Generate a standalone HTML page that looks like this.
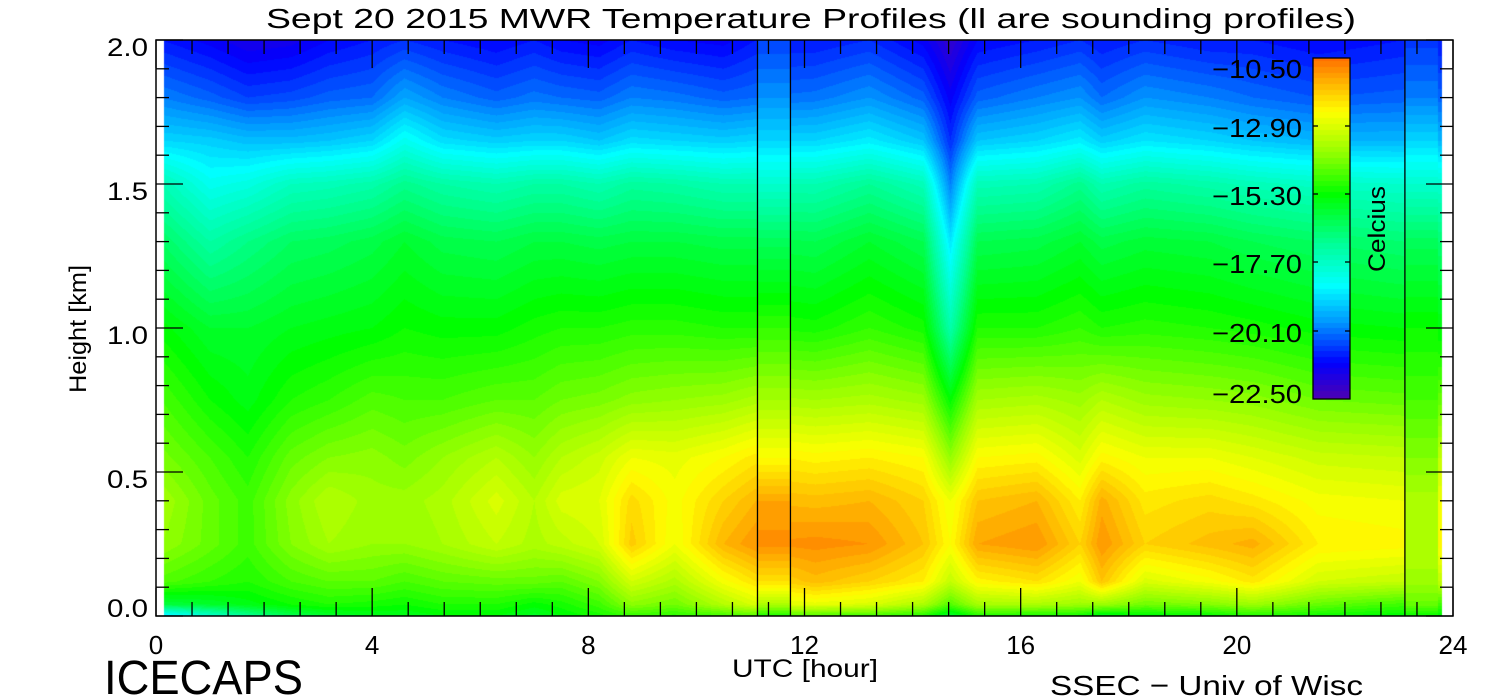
<!DOCTYPE html>
<html><head><meta charset="utf-8"><style>
html,body{margin:0;padding:0;background:#fff;width:1500px;height:700px;overflow:hidden}
#wrap{position:relative;width:1500px;height:700px}
canvas{position:absolute;left:0;top:0}
svg{position:absolute;left:0;top:0}
text{font-family:"Liberation Sans",sans-serif;fill:#000}
</style></head><body>
<div id="wrap">
<canvas id="cv" width="1500" height="700"></canvas>
<svg id="sv" width="1500" height="700"></svg>
</div>
<script>
// ---- data ----
const times = [0.1,1,1.7,2.5,3.2,4,4.6,5.3,6.3,7,7.5,8.2,8.8,9.6,10.5,11.1,12.2,13.2,14.2,14.7,15.2,16.3,17.1,17.5,18.3,19.5,20.3,21.5,23.1];
const heights = [0,0.04,0.12,0.25,0.4,0.55,0.75,1.0,1.3,1.5,1.65,1.8,2.0];
const tH000 = [-19.0,-17.8,-17.0,-16.2,-15.8,-15.6,-15.6,-15.4,-15.4,-15.7,-15.4,-15.1,-14.8,-14.9,-14.7,-14.5,-14.6,-14.7,-15.0,-15.9,-15.0,-15.1,-15.2,-15.7,-15.4,-15.3,-15.0,-15.2,-15.4];
const tH004 = [-16.0,-15.8,-15.5,-15.2,-15.0,-15.1,-15.2,-15.0,-15.0,-15.3,-15.1,-14.7,-13.9,-14.2,-13.4,-12.9,-12.7,-12.9,-13.5,-14.5,-13.6,-13.5,-13.7,-13.7,-14.2,-14.0,-13.7,-14.3,-14.7];
const tH012 = [-14.5,-14.8,-15,-14.6,-14.4,-14.4,-14.6,-14.4,-14.3,-14.3,-14.4,-14,-13,-13.5,-12.5,-12,-11.5,-11.8,-12.2,-13.2,-12.3,-12,-12.6,-11.6,-12.9,-12.5,-12.1,-13,-13.2];
const tH025 = [-13.8,-14.3,-14.7,-14,-13.6,-13.8,-13.8,-13.6,-13.2,-13.5,-13.3,-13,-11.7,-12.6,-11.4,-11,-10.9,-11,-11.6,-12.4,-11.2,-11,-11.8,-11,-11.8,-11.5,-11.3,-12.2,-12.3];
const tH040 = [-13.6,-14.3,-14.7,-13.9,-13.4,-13.7,-13.7,-13.5,-12.9,-13.4,-12.9,-12.8,-11.9,-12.5,-11.8,-11.4,-11.5,-11.4,-11.8,-12.6,-11.6,-11.4,-12.2,-11.3,-12.1,-11.9,-12.1,-12.5,-12.6];
const tH055 = [-14.1,-14.6,-15,-14.3,-14,-13.9,-14.1,-13.8,-13.4,-13.8,-13.4,-13.1,-12.6,-12.7,-12.4,-12.1,-12.3,-12.2,-12.4,-13.8,-12.4,-12.3,-12.9,-12.3,-12.6,-12.6,-12.8,-13.1,-13.2];
const tH075 = [-14.6,-15.2,-15.5,-15,-14.8,-14.5,-14.6,-14.6,-14.4,-14.4,-14.2,-14.1,-13.9,-13.8,-13.7,-13.5,-13.6,-13.5,-13.7,-15.3,-13.6,-13.5,-13.7,-13.4,-13.7,-13.8,-13.9,-14.2,-14.3];
const tH100 = [-15.3,-15.8,-15.8,-15.6,-15.5,-15.4,-15.2,-15.3,-15.3,-15.1,-15,-15,-14.9,-14.9,-15,-15,-15.1,-14.8,-15.1,-17.3,-15,-15,-14.8,-15,-14.9,-15,-15.1,-15.3,-15.4];
const tH130 = [-16.4,-17.2,-16.8,-16.4,-16.3,-16.1,-15.8,-16.1,-16.2,-16.0,-16.0,-16.1,-16.0,-16.0,-16.1,-16.1,-16.2,-15.8,-16.2,-18.8,-16.2,-16.1,-15.8,-16.1,-15.9,-16.0,-16.2,-16.4,-16.6];
const tH150 = [-17.4,-18.3,-18.1,-17.6,-17.5,-17.3,-16.9,-17.2,-17.4,-17.2,-17.2,-17.4,-17.1,-17.2,-17.4,-17.4,-17.4,-17.0,-17.5,-20,-17.5,-17.4,-16.9,-17.4,-17.1,-17.3,-17.5,-17.7,-17.8];
const tH165 = [-19,-19.1,-19.3,-19.3,-19.2,-19,-18.3,-18.9,-19.1,-19,-19,-19.2,-18.9,-19,-19.1,-19,-19,-18.7,-19.2,-20.8,-19.2,-19,-18.7,-19.1,-18.8,-19,-19.2,-19.4,-19.4];
const tH180 = [-20,-20.3,-20.6,-20.5,-20.3,-20.2,-19.6,-20,-20.3,-20.1,-20.2,-20.3,-20,-20.1,-20.3,-20.2,-20.1,-19.8,-20.3,-21.3,-20.3,-20,-19.8,-20.2,-19.8,-20,-20.2,-20.4,-20.3];
const tH200 = [-21,-21.3,-21.6,-21.5,-21.2,-21,-20.8,-21,-21.2,-21,-21.2,-21.3,-21,-21.2,-21.3,-21,-21,-20.8,-21.3,-22,-21.2,-21,-20.8,-21,-20.8,-21,-21,-21.2,-21];
const sounding1Span = [11.13,11.74];
const sounding1 = [-15,-13.5,-12,-10.9,-11.2,-12.4,-13.6,-14.8,-16.3,-17.8,-19,-19.8,-20.6];
const sounding2Span = [23.11,23.72];
const sounding2 = [-15.2,-14.3,-13.7,-13.4,-13.5,-14,-14.6,-15.2,-16.3,-17.8,-19,-20,-20.7];
const xTickLabels = ["0","4","8","12","16","20","24"];
const yTickLabels = ["0.0","0.5","1.0","1.5","2.0"];
const cbarLabels = ["\u221210.50","\u221212.90","\u221215.30","\u221217.70","\u221220.10","\u221222.50"];

const grid = [tH000,tH004,tH012,tH025,tH040,tH055,tH075,tH100,tH130,tH150,tH165,tH180,tH200];

// ---- axes ----
const X0=156, X1=1453, Y0=616, Y1=40;
const xs = t => X0 + t*(X1-X0)/24;
const ys = h => Y0 - h*(Y0-Y1)/2;
const tinv = x => (x-X0)*24/(X1-X0);
const hinv = y => (Y0-y)*2/(Y0-Y1);

const stops=[[-22.5,[80,0,176]],[-21.2,[0,0,255]],[-19.8,[0,150,255]],[-18.5,[0,255,255]],[-17,[0,255,150]],[-15.3,[0,255,0]],[-13.8,[150,255,0]],[-12.4,[255,255,0]],[-11.5,[255,190,0]],[-10.5,[255,110,0]]];
function cmap(v){
  v=Math.floor(v/0.2)*0.2+0.1;
  if(v<=stops[0][0])return stops[0][1];
  for(let i=1;i<stops.length;i++){
    if(v<=stops[i][0]){const a=stops[i-1],b=stops[i];const f=(v-a[0])/(b[0]-a[0]);
      return [0,1,2].map(k=>Math.round(a[1][k]+(b[1][k]-a[1][k])*f));}
  }
  return stops[stops.length-1][1];
}
function interp1(arr,vals,x){
  if(x<=arr[0])return [0,0,0];
  for(let i=1;i<arr.length;i++){ if(x<=arr[i]) return [i-1,i,(x-arr[i-1])/(arr[i]-arr[i-1])]; }
  const n=arr.length-1; return [n,n,0];
}
function profileVal(prof,h){const [a,b,f]=interp1(heights,null,h);return prof[a]+(prof[b]-prof[a])*f;}
function valAt(t,h){
  if(t>=sounding1Span[0]&&t<=sounding1Span[1])return profileVal(sounding1,h);
  if(t>=sounding2Span[0]&&t<=sounding2Span[1])return profileVal(sounding2,h);
  const [i0,i1,ft]=interp1(times,null,t);
  const [j0,j1,fh]=interp1(heights,null,h);
  const a=grid[j0][i0]+(grid[j0][i1]-grid[j0][i0])*ft;
  const b=grid[j1][i0]+(grid[j1][i1]-grid[j1][i0])*ft;
  return a+(b-a)*fh;
}
const cv=document.getElementById('cv');const ctx=cv.getContext('2d');
ctx.fillStyle='#fff';ctx.fillRect(0,0,1500,700);
const DX0=164, DX1=1442;
const img=ctx.createImageData(DX1-DX0,Y0-Y1);
for(let y=Y1;y<Y0;y++){const h=hinv(y+0.5);
  for(let x=DX0;x<DX1;x++){const c=cmap(valAt(tinv(x+0.5),h));const p=((y-Y1)*(DX1-DX0)+(x-DX0))*4;
    img.data[p]=c[0];img.data[p+1]=c[1];img.data[p+2]=c[2];img.data[p+3]=255;}}
ctx.putImageData(img,DX0,Y1);
// colorbar gradient
const CB={x:1313,y:58,w:37,h:341};
for(let y=CB.y;y<CB.y+CB.h;y++){const v=-10.5-(y-CB.y)/CB.h*12;const c=cmap(v);ctx.fillStyle=`rgb(${c[0]},${c[1]},${c[2]})`;ctx.fillRect(CB.x,y,CB.w,1);}

// ---- svg overlay ----
const NS='http://www.w3.org/2000/svg';const sv=document.getElementById('sv');
function mk(tag,attrs,parent){const e=document.createElementNS(NS,tag);for(const k in attrs)e.setAttribute(k,attrs[k]);(parent||sv).appendChild(e);return e;}
function line(x1,y1,x2,y2,name){const l=mk('line',{x1,y1,x2,y2,stroke:'#000','stroke-width':1.3});


return l;}
function txt(s,x,y,size,anchor,name,extra){const t=mk('text',Object.assign({x,y,'font-size':size,'text-anchor':anchor},extra||{}));t.textContent=s;


return t;}
// frame
const fr=mk('rect',{x:X0,y:Y1,width:X1-X0,height:Y0-Y1,fill:'none',stroke:'#000','stroke-width':1.5});


// sounding lines
[sounding1Span[0],sounding1Span[1],sounding2Span[0]].forEach(t=>line(xs(t),Y1,xs(t),Y0,'sounding-marker-line'));
// x ticks
for(let k=0;k<=36;k++){const t=k*2/3;const x=xs(t);const L=(k%6===0)?28:14;
  line(x,Y0,x,Y0-L,'x-tick');line(x,Y1,x,Y1+L,'x-tick-top');}
xTickLabels.forEach((s,i)=>txt(s,xs(i*4),654,26,'middle','x-tick-label'));
// y ticks
for(let k=0;k<=20;k++){const y=ys(k*0.1);const L=(k%5===0)?27:13;
  line(X0,y,X0+L,y,'y-tick');line(X1,y,X1-L,y,'y-tick-right');}
yTickLabels.forEach((s,i)=>txt(s,148,Math.min(ys(i*0.5)+7,608)+9,25,'end','y-tick-label',{textLength:41,lengthAdjust:'spacingAndGlyphs'}));
// titles
txt('Sept 20 2015 MWR Temperature Profiles (ll are sounding profiles)',811,28,28,'middle','chart-title',{textLength:1090,lengthAdjust:'spacingAndGlyphs'});
txt('UTC [hour]',805,677,25,'middle','x-axis-title',{textLength:146,lengthAdjust:'spacingAndGlyphs'});
txt('Height [km]',86,329,24,'middle','y-axis-title',{transform:'rotate(-90 86 329)',textLength:128,lengthAdjust:'spacingAndGlyphs'});
txt('ICECAPS',104,694,48,'start','icecaps-label',{textLength:199,lengthAdjust:'spacingAndGlyphs'});
txt('SSEC \u2212 Univ of Wisc',1050,695,28,'start','ssec-credit',{textLength:313,lengthAdjust:'spacingAndGlyphs'});
// colorbar
const cbr=mk('rect',{x:CB.x,y:CB.y,width:CB.w,height:CB.h,fill:'none',stroke:'#000','stroke-width':1.3});


const cbY=[67,126,194,262,331,392];
cbarLabels.forEach((s,i)=>{txt(s,1302,cbY[i]+11,26,'end','colorbar-label',{textLength:90,lengthAdjust:'spacingAndGlyphs'});
  if(i>0&&i<5){line(CB.x,cbY[i],CB.x+5,cbY[i],'colorbar-tick');line(CB.x+CB.w,cbY[i],CB.x+CB.w-5,cbY[i],'colorbar-tick');}});
txt('Celcius',1385,229,24,'middle','colorbar-title',{transform:'rotate(-90 1385 229)',textLength:86,lengthAdjust:'spacingAndGlyphs'});
</script>
</body></html>
